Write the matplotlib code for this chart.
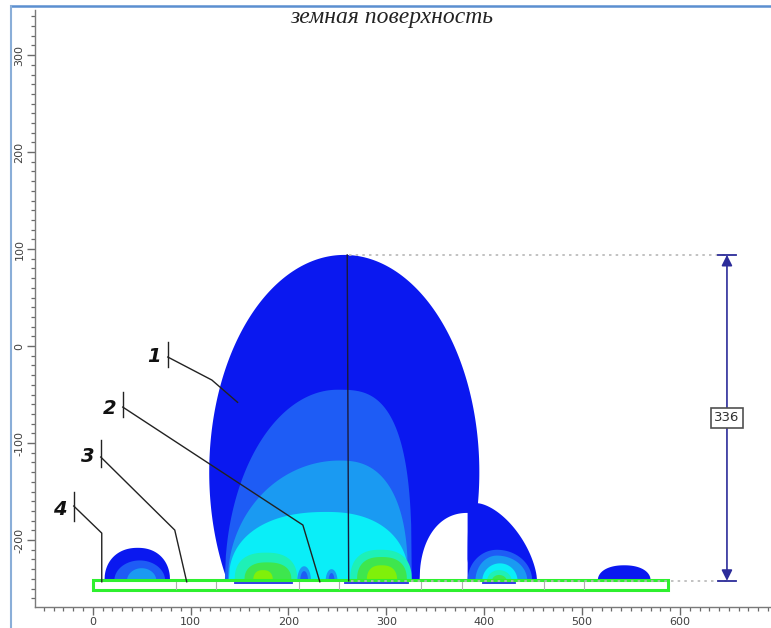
import numpy as np
import matplotlib.pyplot as plt

plt.rcParams['axes.unicode_minus'] = False

BASE = -242.0   # top of the electrode strip

# fill colours for each field level, 0 = below threshold
level_colors = ['#ffffff', '#0a18f0', '#1e5cf5', '#1a9af2',
                '#0aeef8', '#1ef0b6', '#3ee64e', '#80f00a']

# outer envelope of the main zone (ellipse)
dome_center = (257.0, -130.0)
dome_axes = (138.0, 224.0)

# zones standing on the electrode line, drawn in this order
zone_level = [0, 1, 1, 1,
              2, 2, 2,
              3, 3, 3,
              4, 4,
              5, 5, 5,
              6, 6, 6,
              7, 7,
              3, 2, 3, 2]
zone_xc = [383, 393, 46, 543,
           250, 413, 48,
           252, 413, 50,
           239, 416,
           177, 294, 415,
           178, 295, 415,
           174, 295,
           216, 216, 244, 244]
zone_wl = [49, 10, 34, 27,
           115, 30, 26,
           114, 22, 15,
           100, 18,
           32, 31, 12,
           23, 25, 7,
           10, 15,
           7, 4, 6, 3]
zone_wr = [0, 61, 33, 27,
           76, 36, 26,
           70, 31, 15,
           84, 18,
           32, 32, 13,
           25, 26, 8,
           10, 16,
           7, 4, 6, 3]
zone_h = [70, 80, 34, 16,
          197, 32, 21,
          124, 26, 13,
          71, 18,
          29, 32, 11,
          19, 24.5, 6,
          11, 16,
          15, 10, 12, 8]
zone_nl = [2.2, 4, 2.2, 2.2,
           2.0, 2, 2,
           2.0, 2, 2,
           2.3, 2,
           2.5, 2.5, 2,
           2.5, 2.5, 2,
           2.5, 2.5,
           2, 2, 2, 2]
zone_nr = [2, 1.6, 2.2, 2.2,
           3.0, 2, 2,
           2.5, 2, 2,
           2.3, 2,
           2.5, 2.5, 2,
           2.5, 2.5, 2,
           2.5, 2.5,
           2, 2, 2, 2]

# electrode strip and its section borders
strip_x = (0, 588)
strip_y = (-251.5, -241.5)
section_edges = [85, 126, 211, 252, 335, 377, 461, 502]
# thin conductors seen under the strip edge
conductor_x = [(145, 204), (258, 322), (399, 431)]

dim_x = 648
dim_top = 94
dim_label = dim_top - BASE   # 336
axis_x = (260, 261.5)

# callout numbers: text position, bar x, bar y-range, leader polyline
callout_text = ['1', '2', '3', '4']
callout_pos = [(63, -11), (17, -64), (-5, -114), (-34, -168)]
callout_bar_x = [76.7, 30.7, 8.2, -19.4]
callout_bar_y = [(4, -22), (-47, -73), (-97, -125), (-150, -180)]
callout_path = [
    [(76.7, -11.3), (121.7, -35.0), (148.0, -58.0)],
    [(30.7, -62.9), (214.7, -184.5), (232.0, -243.0)],
    [(8.2, -114.4), (83.8, -189.7), (96.0, -243.0)],
    [(-19.4, -164.9), (9.2, -192.8), (9.2, -243.0)],
]


def zone_outline(xc, wl, wr, h, nl, nr, n=120):
    t = np.linspace(1, 0, n)
    xl = xc - wl * t
    yl = BASE + h * (1 - t ** nl) ** (1 / nl)
    t = np.linspace(0, 1, n)
    xr = xc + wr * t
    yr = BASE + h * (1 - t ** nr) ** (1 / nr)
    return np.r_[xl, xr], np.r_[yl, yr]


fig = plt.figure(figsize=(7.71, 6.28), dpi=100)
ax = fig.add_axes([35 / 771, 21 / 628, 736 / 771, 597 / 628])
ax.set_xlim(-59, 693)
ax.set_ylim(-269, 346.5)

# main envelope
th = np.linspace(0, 2 * np.pi, 400)
ex = dome_center[0] + dome_axes[0] * np.cos(th)
ey = np.maximum(dome_center[1] + dome_axes[1] * np.sin(th), BASE)
ax.fill(ex, ey, color=level_colors[1], lw=0, zorder=1)

for i in range(len(zone_level)):
    zx, zy = zone_outline(zone_xc[i], zone_wl[i], zone_wr[i], zone_h[i],
                          zone_nl[i], zone_nr[i])
    ax.fill(zx, zy, color=level_colors[zone_level[i]], lw=0, zorder=2 + i * 0.01)

# electrode strip
ax.add_patch(plt.Rectangle((strip_x[0], strip_y[0]), strip_x[1] - strip_x[0],
                           strip_y[1] - strip_y[0], facecolor='white',
                           edgecolor='#2ef02e', lw=2.2, zorder=4))
for xe in section_edges:
    ax.plot([xe, xe], [strip_y[0] + 1.5, strip_y[1] - 1.5], color='#b0b0b0',
            lw=0.8, zorder=4.5)
for x0, x1 in conductor_x:
    ax.plot([x0, x1], [BASE - 2.6, BASE - 2.6], color='#2030e0', lw=1.3,
            zorder=4.5)

# symmetry axis and dimension
ax.plot(axis_x, [dim_top, BASE], color='#1a1a3a', lw=1.0, zorder=5)
ax.plot([axis_x[0] + 2, dim_x], [dim_top, dim_top], color='#b8b8b8', lw=1.2,
        ls=(0, (1.5, 2.5)), zorder=5)
ax.plot([axis_x[1] + 2, dim_x], [BASE, BASE], color='#b8b8b8', lw=1.2,
        ls=(0, (1.5, 2.5)), zorder=5)
ax.annotate('', xy=(dim_x, dim_top), xytext=(dim_x, BASE),
            arrowprops=dict(arrowstyle='<|-|>', color='#2c2c9a', lw=1.2,
                            mutation_scale=16, shrinkA=0, shrinkB=0),
            zorder=6)
for yy in (dim_top, BASE):
    ax.plot([dim_x - 9, dim_x + 9], [yy, yy], color='#2c2c9a', lw=1.3, zorder=6)
ax.text(dim_x, (dim_top + BASE) / 2, f'{dim_label:.0f}', ha='center',
        va='center', fontsize=9.5, color='#303030', zorder=7,
        bbox=dict(boxstyle='square,pad=0.25', fc='white', ec='#505050', lw=1.2))

# callouts
for lab, pos, bx, by, path in zip(callout_text, callout_pos, callout_bar_x,
                                  callout_bar_y, callout_path):
    ax.text(pos[0], pos[1], lab, ha='center', va='center', fontsize=14,
            fontweight='bold', style='italic', color='#111111', zorder=7)
    ax.plot([bx, bx], by, color='#222222', lw=1.0, zorder=7)
    px, py = zip(*path)
    ax.plot(px, py, color='#222222', lw=1.0, zorder=7)

# axes styling
for side in ('top', 'right'):
    ax.spines[side].set_visible(False)
for side in ('left', 'bottom'):
    ax.spines[side].set_color('#7a7a7a')
    ax.spines[side].set_linewidth(1.0)
ax.set_xticks(np.arange(0, 700, 100))
ax.set_yticks(np.arange(-200, 400, 100))
ax.set_xticks(np.arange(-50, 693, 10), minor=True)
ax.set_yticks(np.arange(-260, 346, 10), minor=True)
ax.tick_params(which='major', direction='out', length=6, width=1.0,
               color='#6a6a6a', labelsize=8, labelcolor='#404040', pad=1.5)
ax.tick_params(which='minor', direction='out', length=3, width=0.9,
               color='#6a6a6a')
plt.setp(ax.get_yticklabels(), rotation=90, va='center')

fig.text(392 / 771, 1 - 17 / 628, 'земная поверхность', ha='center',
         va='center', fontsize=17, style='italic', family='Liberation Serif',
         color='#222222')

# window frame
fig.add_artist(plt.Line2D([11 / 771, 1], [1 - 5.5 / 628] * 2, color='#5b8fd0',
                          lw=1.8))
fig.add_artist(plt.Line2D([11 / 771] * 2, [0, 1 - 5.5 / 628], color='#8aaed8',
                          lw=1.5))

fig.savefig('out.png', dpi=100)
